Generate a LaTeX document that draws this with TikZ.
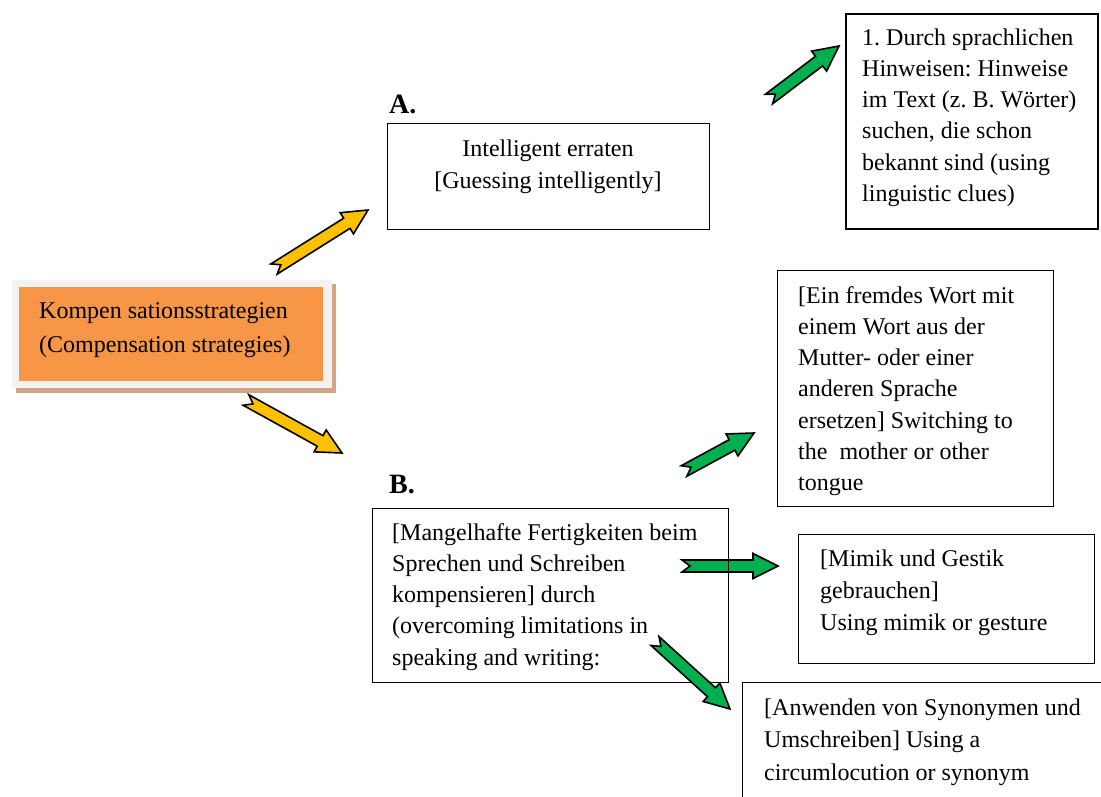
\documentclass[tikz,border=0pt]{standalone}
\usepackage{fontspec}
\setmainfont{Liberation Serif}
\usetikzlibrary{calc}
\frenchspacing
\definecolor{arrYellow}{HTML}{FFC000}
\definecolor{arrGreen}{HTML}{00B050}
\definecolor{kOrange}{HTML}{F79646}
\definecolor{kFrame}{HTML}{F2F2F2}
\definecolor{kShadow}{HTML}{CFA586}
\newcommand\notchedarrow[3]{%
  \coordinate (nh) at ($(#3)!25pt!(#2)$);
  \filldraw[fill=#1, draw=black, line width=1.6pt, line join=miter]
    ($(#2)!6pt!90:(#3)$) -- ($(nh)!6pt!-90:(#2)$) -- ($(nh)!12.5pt!-90:(#2)$) -- (#3)
    -- ($(nh)!12.5pt!90:(#2)$) -- ($(nh)!6pt!90:(#2)$) -- ($(#2)!6pt!-90:(#3)$)
    -- ($(#2)!8pt!(#3)$) -- cycle;
}
\tikzset{
  box/.style={draw=black, line width=1.3pt, anchor=north west, inner sep=0pt},
  txt/.style={font=\fontsize{24}{31.2}\selectfont, align=left, inner sep=0pt, anchor=north west},
  lbl/.style={font=\fontsize{28}{32}\selectfont\bfseries, inner sep=0pt, anchor=base west},
}
\begin{document}
\begin{tikzpicture}[x=1pt, y=-1pt]
\useasboundingbox (0,0) rectangle (1101,796);
\clip (0,0) rectangle (1101,796);
\fill[white] (0,0) rectangle (1101,796);

% orange main box
\fill[kShadow] (16,284) rectangle (336,393);
\fill[kFrame] (12,280) rectangle (332,388);
\node[fill=kOrange, anchor=north west, inner sep=0pt, minimum width=304pt, minimum height=94pt] (main) at (19,287) {};
\node[txt, font=\fontsize{24}{34}\selectfont] (maintxt) at (39,294.2) {\strut Kompen sationsstrategien\\(Compensation strategies)};

% arrow coordinates
\coordinate (y1s) at (274,269); \coordinate (y1e) at (368,210);
\coordinate (y2s) at (246,400); \coordinate (y2e) at (342,453);
\coordinate (g1s) at (769,99);  \coordinate (g1e) at (839,46);
\coordinate (g2s) at (684,471); \coordinate (g2e) at (754,433);
\coordinate (g3s) at (682,566); \coordinate (g3e) at (778,566);
\coordinate (g4s) at (655,641); \coordinate (g4e) at (730,709);

\notchedarrow{arrGreen}{g3s}{g3e}

% boxes
\node[box, minimum width=322pt, minimum height=106pt] (boxA) at (387,123) {};
\node[box, line width=1.6pt, minimum width=252pt, minimum height=215pt] (boxTR) at (845,13) {};
\node[box, minimum width=356pt, minimum height=174pt] (boxB) at (372,508) {};
\node[box, minimum width=276pt, minimum height=236pt] (boxEin) at (777,270) {};
\node[box, minimum width=296pt, minimum height=129pt] (boxMim) at (798,534) {};
\node[box, minimum width=368pt, minimum height=128pt] (boxAnw) at (742,682) {};

% labels
\node[lbl] (labA) at (389,113) {A.};
\node[lbl] (labB) at (389,493) {B.};

% texts
\node[txt, align=center, anchor=north, font=\fontsize{24}{32}\selectfont] (tA) at (548,133.6) {\strut Intelligent erraten\\{}[Guessing intelligently]};
\node[txt] (tTR) at (862,23.2) {\strut 1. Durch sprachlichen\\Hinweisen: Hinweise\\im Text (z. B. Wörter)\\suchen, die schon\\bekannt sind (using\\linguistic clues)};
\node[txt, font=\fontsize{24}{31.25}\selectfont] (tB) at (392,518.1) {\strut [Mangelhafte Fertigkeiten beim\\Sprechen und Schreiben\\kompensieren] durch\\(overcoming limitations in\\speaking and writing:};
\node[txt] (tEin) at (798,281.2) {\strut [Ein fremdes Wort mit\\einem Wort aus der\\Mutter- oder einer\\anderen Sprache\\ersetzen] Switching to\\the\ \ mother or other\\tongue};
\node[txt, font=\fontsize{24}{32}\selectfont] (tMim) at (820,543.6) {\strut [Mimik und Gestik\\gebrauchen]\\Using mimik or gesture};
\node[txt, font=\fontsize{24}{32.5}\selectfont] (tAnw) at (764,692.25) {\strut [Anwenden von Synonymen und\\Umschreiben] Using a\\circumlocution or synonym};

% arrows
\notchedarrow{arrYellow}{y1s}{y1e}
\notchedarrow{arrYellow}{y2s}{y2e}
\notchedarrow{arrGreen}{g1s}{g1e}
\notchedarrow{arrGreen}{g2s}{g2e}
\notchedarrow{arrGreen}{g4s}{g4e}
\end{tikzpicture}
\end{document}
